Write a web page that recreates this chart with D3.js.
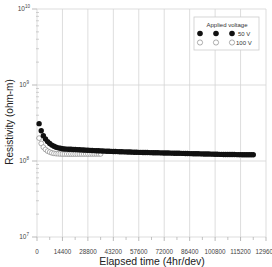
<!DOCTYPE html>
<html><head><meta charset="utf-8">
<script src="https://cdn.jsdelivr.net/npm/d3@7"></script>
<style>body{margin:0;background:#fff}svg{display:block;font-family:"Liberation Sans",Arial,sans-serif}</style>
</head><body><svg id="c" width="272" height="267"></svg>
<script>
// Data (resistivity in ohm-m, sampled every 1200 s starting at 1200 s)
const sampleStep = 1200;
const series50V = [3.1,2.5,2.15,1.95,1.8,1.7,1.62,1.56,1.52,1.49,1.47,1.45,
 1.44,1.435,1.43,1.425,1.42,1.415,1.41,1.405,1.40,1.395,1.39,1.385,1.38,1.375,1.37,1.366,1.362,1.358,
 1.354,1.35,1.346,1.342,1.338,1.335,1.332,1.329,1.326,1.323,1.32,1.317,1.314,1.311,1.308,1.305,1.302,1.30,
 1.298,1.296,1.294,1.292,1.29,1.288,1.286,1.284,1.282,1.28,1.278,1.276,1.274,1.272,1.27,1.268,1.266,1.264,
 1.262,1.26,1.258,1.256,1.254,1.252,1.25,1.248,1.246,1.244,1.242,1.24,1.238,1.236,1.234,1.232,1.23,1.228,
 1.226,1.224,1.222,1.22,1.219,1.218,1.217,1.216,1.215,1.214,1.213,1.212,1.211,1.21,1.21,1.209,1.208,1.207];
const series100V = [2.0,1.7,1.52,1.42,1.35,1.31,1.28,1.26,1.25,1.245,1.24,1.238,1.236,1.235,1.234,1.234,
 1.234,1.235,1.235,1.236,1.236,1.237,1.237,1.238,1.238,1.239,1.239,1.24,1.24,1.24];
const scaleFactor = 1e8;
const xTicks = [0,14400,28800,43200,57600,72000,86400,100800,115200,129600];
const yTicks = [1e7,1e8,1e9,1e10];
const legendTitle = "Applied voltage";
const legendLabels = ["50 V","100 V"];

const svg = d3.select("#c");
const x = d3.scaleLinear().domain([0,129600]).range([37,266]);
const y = d3.scaleLog().domain([1e7,1e10]).range([237,9]);
const grid = "#d4d4d4";

// gridlines
svg.append("g").selectAll("line").data(xTicks).join("line")
  .attr("x1",d=>x(d)).attr("x2",d=>x(d)).attr("y1",y(1e10)).attr("y2",y(1e7))
  .attr("stroke",grid).attr("stroke-width",0.8);
svg.append("g").selectAll("line").data(yTicks).join("line")
  .attr("x1",x(0)).attr("x2",x(129600)).attr("y1",d=>y(d)).attr("y2",d=>y(d))
  .attr("stroke",grid).attr("stroke-width",0.8);

// y axis ticks
const minor = [];
[1e7,1e8,1e9].forEach(b=>{for(let i=2;i<10;i++)minor.push(b*i);});
svg.append("g").selectAll("line").data(minor).join("line")
  .attr("x1",x(0)-1).attr("x2",x(0)+2).attr("y1",d=>y(d)).attr("y2",d=>y(d))
  .attr("stroke","#bbb").attr("stroke-width",0.7);
svg.append("g").selectAll("line").data(yTicks).join("line")
  .attr("x1",x(0)-5).attr("x2",x(0)).attr("y1",d=>y(d)).attr("y2",d=>y(d))
  .attr("stroke","#aaa").attr("stroke-width",0.8);
// x axis ticks
const xMinor = xTicks.slice(0,-1).map(d=>d+7200);
svg.append("g").selectAll("line").data(xMinor).join("line")
  .attr("x1",d=>x(d)).attr("x2",d=>x(d)).attr("y1",y(1e7)).attr("y2",y(1e7)+3)
  .attr("stroke","#aaa").attr("stroke-width",0.7);
svg.append("g").selectAll("line").data(xTicks).join("line")
  .attr("x1",d=>x(d)).attr("x2",d=>x(d)).attr("y1",y(1e7)).attr("y2",y(1e7)+4)
  .attr("stroke","#aaa").attr("stroke-width",0.8);

// tick labels
const xl = svg.append("g").attr("font-size",6.3).attr("fill","#444").attr("text-anchor","middle");
xl.selectAll("text").data(xTicks).join("text").attr("x",d=>x(d)).attr("y",254).text(d=>d);
const yl = svg.append("g").attr("font-size",6.5).attr("fill","#444");
yTicks.forEach(v=>{
  const e = Math.round(Math.log10(v));
  const t = yl.append("text").attr("x",e>=10?30:29).attr("y",y(v)+2).attr("text-anchor","end");
  t.append("tspan").text("10");
  t.append("tspan").attr("dy",-3).attr("font-size",4.5).text(e);
});

// axis titles
svg.append("text").attr("x",152).attr("y",265).attr("text-anchor","middle")
  .attr("font-size",10.5).attr("fill","#222").text("Elapsed time (4hr/dev)");
svg.append("text").attr("transform","translate(13,122) rotate(-90)").attr("text-anchor","middle")
  .attr("font-size",10).attr("fill","#222").text("Resistivity (ohm-m)");

// data
const d100 = series100V.map((v,i)=>({t:(i+1)*sampleStep,v:v*scaleFactor}));
const d50 = series50V.map((v,i)=>({t:(i+1)*sampleStep,v:v*scaleFactor}));
svg.append("g").selectAll("circle").data(d100).join("circle")
  .attr("cx",d=>x(d.t)).attr("cy",d=>y(d.v)).attr("r",2.4)
  .attr("fill","#fff").attr("stroke","#777").attr("stroke-width",0.6);
svg.append("g").selectAll("circle").data(d50).join("circle")
  .attr("cx",d=>x(d.t)).attr("cy",d=>y(d.v)).attr("r",2.7)
  .attr("fill","#111");

// legend
const lg = svg.append("g");
lg.append("rect").attr("x",194).attr("y",17).attr("width",65).attr("height",33)
  .attr("fill","#fff").attr("stroke","#ccc").attr("stroke-width",0.8);
lg.append("text").attr("x",227).attr("y",27).attr("text-anchor","middle")
  .attr("font-size",6).attr("fill","#333").text(legendTitle);
const lx = [200,216,232];
lx.forEach(cx=>{
  lg.append("circle").attr("cx",cx).attr("cy",33.5).attr("r",2.8).attr("fill","#111");
  lg.append("circle").attr("cx",cx).attr("cy",42.5).attr("r",2.6).attr("fill","#fff").attr("stroke","#777").attr("stroke-width",0.6);
});
lg.append("text").attr("x",238).attr("y",35.5).attr("font-size",6).attr("fill","#333").text(legendLabels[0]);
lg.append("text").attr("x",236).attr("y",44.5).attr("font-size",6).attr("fill","#333").text(legendLabels[1]);
</script></body></html>
